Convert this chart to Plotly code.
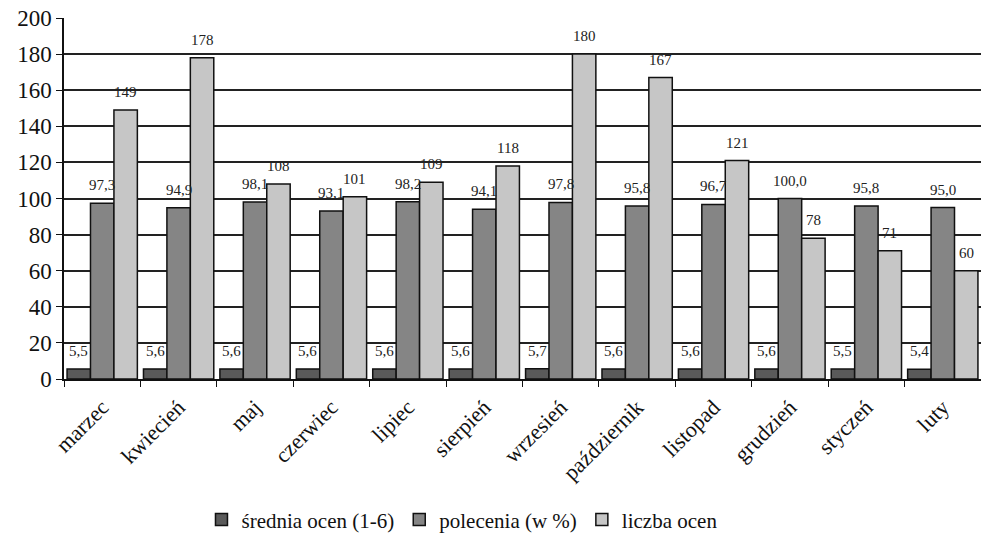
import plotly.graph_objects as go

months = ["marzec", "kwiecień", "maj", "czerwiec", "lipiec", "sierpień",
          "wrzesień", "październik", "listopad", "grudzień", "styczeń", "luty"]
srednia = [5.5, 5.6, 5.6, 5.6, 5.6, 5.6, 5.7, 5.6, 5.6, 5.6, 5.5, 5.4]
polecenia = [97.3, 94.9, 98.1, 93.1, 98.2, 94.1, 97.8, 95.8, 96.7, 100.0, 95.8, 95.0]
liczba = [149, 178, 108, 101, 109, 118, 180, 167, 121, 78, 71, 60]


def pl_dec(v):
    return f"{v:.1f}".replace(".", ",")


series = [
    ("średnia ocen (1-6)", srednia, "#5a5a5a", pl_dec),
    ("polecenia (w %)", polecenia, "#858585", pl_dec),
    ("liczba ocen", liczba, "#c6c6c6", lambda v: f"{v:d}"),
]

FONT = "Liberation Serif, serif"
BAR_PX = 23.5  # approximate pixel width of one bar in the group

fig = go.Figure()
annotations = []
for k, (name, vals, color, fmt) in enumerate(series):
    fig.add_trace(go.Bar(
        name=name, x=months, y=vals,
        marker=dict(color=color, line=dict(color="#111111", width=1.5)),
    ))
    # value labels floating a little above each bar
    for m, v in zip(months, vals):
        annotations.append(dict(
            x=m, y=v, xref="x", yref="y", text=fmt(v), showarrow=False,
            xanchor="center", yanchor="bottom", xshift=(k - 1) * BAR_PX, yshift=8,
            font=dict(family=FONT, size=15, color="#222222"),
        ))

fig.update_layout(
    width=981, height=543,
    margin=dict(l=64, r=0, t=18, b=164),
    paper_bgcolor="white", plot_bgcolor="white",
    barmode="group", bargap=0.08, bargroupgap=0,
    font=dict(family=FONT, color="#111111"),
    showlegend=True,
    legend=dict(orientation="h", x=0.434, xanchor="center", y=-0.39, yanchor="middle",
                font=dict(family=FONT, size=21, color="#111111"),
                itemwidth=30, traceorder="normal"),
    annotations=annotations,
)
fig.update_xaxes(
    range=[-0.5, 11.5],
    tickangle=-45, tickfont=dict(family=FONT, size=22, color="#111111"),
    ticklabelstandoff=5,
    tickson="boundaries", ticks="outside", ticklen=6, tickcolor="#111111",
    showline=True, linecolor="#111111", linewidth=1.5,
    showgrid=False,
)
fig.update_yaxes(
    range=[0, 200], dtick=20,
    tickfont=dict(family=FONT, size=23, color="#111111"),
    ticks="outside", ticklen=6, tickcolor="#111111",
    showline=True, linecolor="#111111", linewidth=1.5,
    showgrid=True, gridcolor="#222222", gridwidth=1.5,
    zeroline=False,
)

fig.write_html("out.html")
